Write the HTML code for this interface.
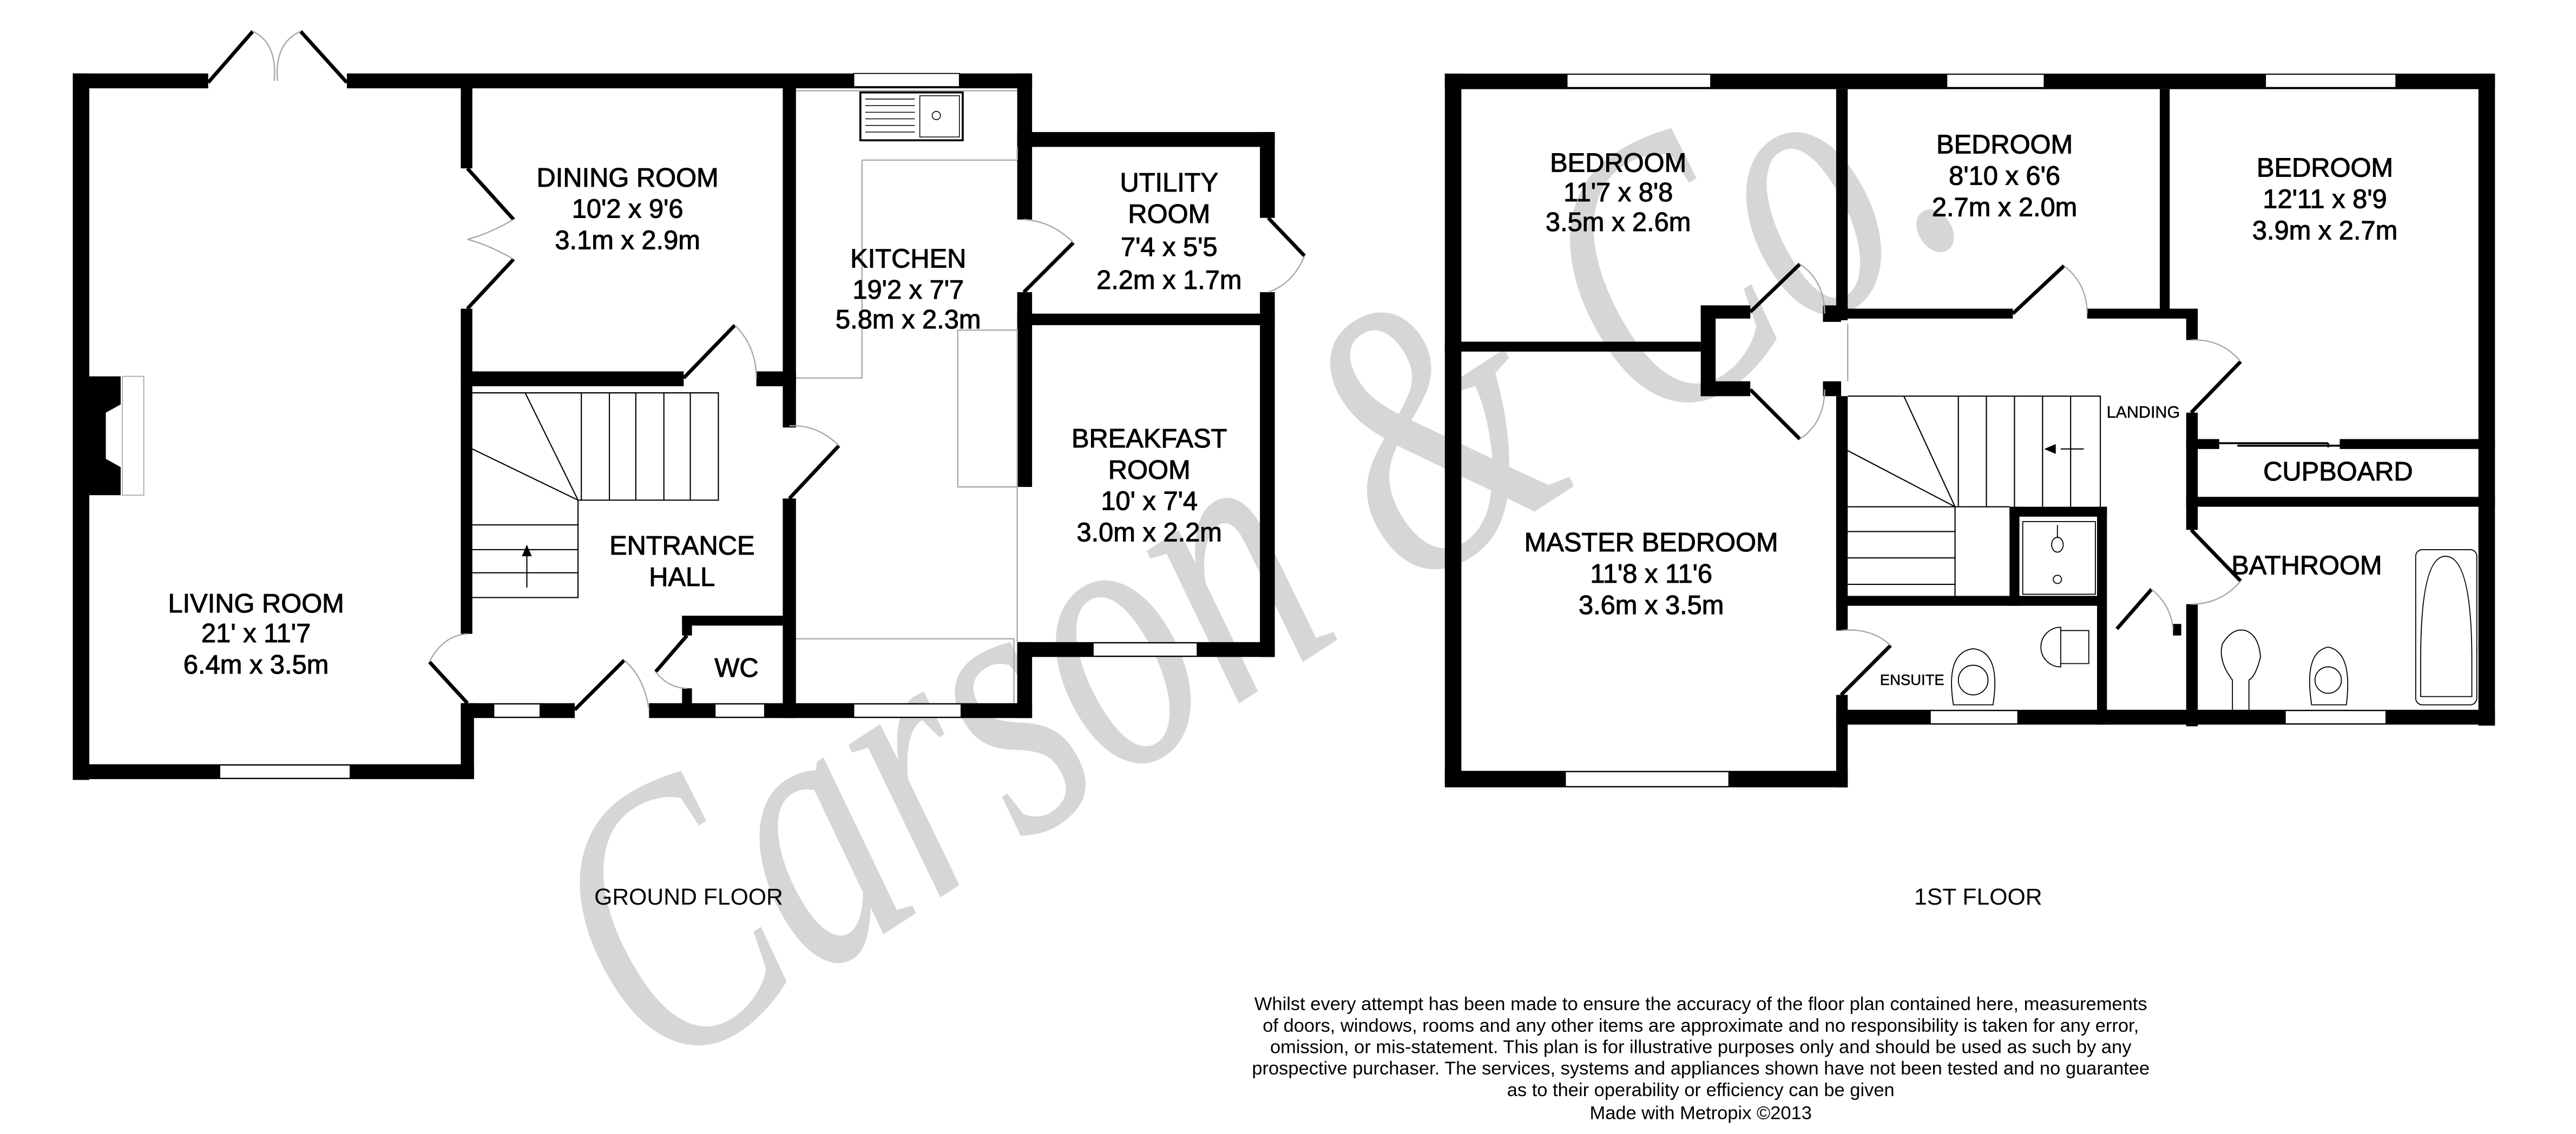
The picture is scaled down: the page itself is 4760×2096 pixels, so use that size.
<!DOCTYPE html>
<html><head><meta charset="utf-8"><style>
html,body{margin:0;padding:0;background:#fff;width:4760px;height:2096px;overflow:hidden}
svg{display:block}
.t{font-family:"Liberation Sans",sans-serif;font-size:16px;fill:#000;text-anchor:middle;stroke:#000;stroke-width:0.35}
.d{fill:none;stroke:#aaa;stroke-width:0.8}
.dl{stroke:#000;stroke-width:2.2}
.g{fill:none;stroke:#aaa;stroke-width:0.8}
.s{stroke:#000;stroke-width:0.7;fill:none}
</style></head><body>
<svg width="4760" height="2096" viewBox="0 0 1560 687" xmlns="http://www.w3.org/2000/svg">
<rect width="1560" height="687" fill="#fff"/>
<!-- watermark -->
<text x="0" y="0" transform="translate(398,655) rotate(-33)" font-family="Liberation Serif, serif" font-style="italic" font-size="235" textLength="955" lengthAdjust="spacingAndGlyphs" fill="#999" fill-opacity="0.4">Carson &amp; Co.</text>
<g fill="#000">
<!-- GROUND FLOOR -->
<rect x="44" y="44.5" width="10" height="428"/>
<rect x="44" y="44.5" width="82" height="9"/>
<rect x="210" y="44.5" width="415" height="9"/>
<rect x="616" y="44.5" width="9" height="45"/>
<rect x="616" y="80" width="156" height="9"/>
<rect x="763" y="80" width="9" height="52"/>
<rect x="763" y="177" width="9" height="221"/>
<rect x="616" y="190" width="156" height="7"/>
<rect x="616" y="89" width="9" height="44"/>
<rect x="616" y="177" width="9" height="118"/>
<rect x="616" y="389" width="156" height="9"/>
<rect x="616" y="389" width="9" height="46"/>
<rect x="393" y="426" width="232" height="9"/>
<rect x="474" y="53" width="8" height="206"/>
<rect x="474" y="302" width="8" height="133"/>
<rect x="279" y="53" width="7" height="49"/>
<rect x="279" y="187" width="7" height="197"/>
<rect x="279" y="225" width="135" height="9"/>
<rect x="458" y="225" width="24" height="9"/>
<rect x="44" y="463" width="243" height="9"/>
<rect x="279" y="426" width="8" height="46"/>
<rect x="279" y="426" width="69" height="9"/>
<rect x="413" y="373" width="61" height="6"/>
<rect x="413" y="373" width="6" height="12"/>
<rect x="413" y="417" width="6" height="10"/>
<path d="M54 228 H73 V245 L64 250 V278 L73 283 V300 H54 Z"/>
<!-- FIRST FLOOR -->
<rect x="875" y="44.6" width="10" height="432"/>
<rect x="875" y="44.6" width="636" height="9.4"/>
<rect x="1501" y="44.6" width="10" height="395"/>
<rect x="1112" y="54" width="7" height="140"/>
<rect x="1308" y="54" width="6" height="133"/>
<rect x="1112" y="187" width="107" height="6"/>
<rect x="1264" y="187" width="67" height="6"/>
<rect x="1324" y="187" width="7" height="19"/>
<rect x="1324" y="250" width="7" height="71"/>
<rect x="1324" y="366" width="7" height="74"/>
<rect x="1324" y="266" width="20" height="6"/>
<rect x="1417" y="266" width="94" height="6"/>
<rect x="1324" y="301" width="187" height="6"/>
<rect x="875" y="207" width="155" height="6"/>
<rect x="1030" y="185" width="9" height="55"/>
<rect x="1030" y="185" width="30" height="8"/>
<rect x="1030" y="231" width="30" height="9"/>
<rect x="1104" y="185" width="11" height="10"/>
<rect x="1104" y="231" width="11" height="9"/>
<rect x="1112" y="240" width="7" height="142"/>
<rect x="1112" y="421" width="7" height="56"/>
<rect x="875" y="467" width="244" height="10"/>
<rect x="1112" y="430" width="399" height="9"/>
<rect x="1112" y="361" width="162" height="6"/>
<rect x="1270" y="307" width="6" height="132"/>
<rect x="1217" y="307" width="59" height="6"/>
<rect x="1217" y="307" width="6" height="60"/>
<rect x="1316" y="378" width="5" height="7"/>
</g>
<!-- windows -->
<g fill="#fff" stroke="#000" stroke-width="0.6">
<rect x="517" y="44.5" width="64" height="8"/>
<rect x="662" y="389.5" width="63" height="8"/>
<rect x="433" y="426.5" width="30" height="8"/>
<rect x="517" y="426.5" width="65" height="8"/>
<rect x="299" y="426.5" width="28" height="8"/>
<rect x="133" y="463.5" width="79" height="8"/>
<rect x="74" y="228" width="13" height="72" stroke="#aaa"/>
<rect x="949" y="45" width="87" height="8"/>
<rect x="1179" y="45" width="59" height="8"/>
<rect x="1372" y="45" width="79" height="8"/>
<rect x="948" y="467.5" width="99" height="9"/>
<rect x="1169" y="430.5" width="53" height="8"/>
<rect x="1384" y="430.5" width="61" height="8"/>
</g>
<g class="g">
<path d="M482 55 H616 M616 89 V97 M522 97 H616 M522 97 V229 H482"/>
<path d="M580 200 H616 V295 H580 Z"/>
<path d="M616 295 V389 M482 387 H614 V426"/>
<path d="M1119 196 V231"/>
</g>
<rect x="521" y="56" width="62" height="29" fill="#fff" stroke="#000" stroke-width="1.2"/>
<path d="M524 60h30M524 64h30M524 68h30M524 72h30M524 76h30M524 80h30" stroke="#000" stroke-width="0.5"/>
<rect x="557" y="58" width="24" height="25" fill="none" stroke="#000" stroke-width="0.5"/>
<circle cx="567" cy="70" r="2.5" fill="none" stroke="#000" stroke-width="0.5"/>
<g>
<line class="dl" x1="126" y1="50" x2="153" y2="19"/><line class="dl" x1="210" y1="50" x2="182" y2="19"/>
<path class="d" d="M153 19 Q168 26 166 49 M182 19 Q166 26 168 49"/>
<line class="dl" x1="283" y1="102" x2="311" y2="133"/><line class="dl" x1="283" y1="187" x2="311" y2="157"/>
<path class="d" d="M311 133 Q295 142 283 145 M311 157 Q295 148 283 145"/>
<line class="dl" x1="414" y1="229" x2="445" y2="197"/><path class="d" d="M445 197 Q458 210 458 229"/>
<line class="dl" x1="478" y1="302" x2="508" y2="270"/><path class="d" d="M508 270 Q495 257 478 258"/>
<line class="dl" x1="620" y1="177" x2="650" y2="147"/><path class="d" d="M650 147 Q637 134 620 133"/>
<line class="dl" x1="768" y1="132" x2="790" y2="155"/><path class="d" d="M790 155 Q783 172 768 177"/>
<line class="dl" x1="283" y1="426" x2="260" y2="401"/><path class="d" d="M260 401 Q268 385 283 384"/>
<line class="dl" x1="348" y1="430" x2="378" y2="400"/><path class="d" d="M378 400 Q390 410 393 430"/>
<line class="dl" x1="416" y1="385" x2="397" y2="407"/><path class="d" d="M397 407 Q405 417 416 417"/>
</g>
<g class="s">
<path d="M286 238 H435 V303 H350 V362 H286"/>
<path d="M318 238 L350 303 M286 272 L350 303"/>
<path d="M352 238V303M369 238V303M385 238V303M402 238V303M418 238V303"/>
<path d="M286 318H350M286 333H350M286 347H350"/>
<path d="M319 356 V332"/>
</g>
<path d="M319 330 l-3 7 h6 z" fill="#000"/>
<g>
<line class="dl" x1="1060" y1="189" x2="1090" y2="160"/><path class="d" d="M1090 160 Q1105 170 1105 190"/>
<line class="dl" x1="1060" y1="236" x2="1090" y2="266"/><path class="d" d="M1090 266 Q1105 256 1105 236"/>
<line class="dl" x1="1219" y1="190" x2="1250" y2="161"/><path class="d" d="M1250 161 Q1264 172 1264 190"/>
<line class="dl" x1="1327" y1="250" x2="1357" y2="219"/><path class="d" d="M1357 219 Q1345 205 1327 206"/>
<line class="dl" x1="1327" y1="321" x2="1357" y2="352"/><path class="d" d="M1357 352 Q1345 366 1327 366"/>
<line class="dl" x1="1115" y1="421" x2="1145" y2="391"/><path class="d" d="M1145 391 Q1133 380 1115 382"/>
<line class="dl" x1="1282" y1="381" x2="1303" y2="357"/><path class="d" d="M1303 357 Q1315 367 1316 381"/>
<path d="M1344 268.5 H1410 M1410 268.5 V271" stroke="#000" stroke-width="1.2"/>
<path d="M1355 270 H1422" stroke="#000" stroke-width="1.2"/>
</g>
<g class="s">
<path d="M1119 240 H1272 V307"/>
<path d="M1153 240 L1184 307 M1119 273 L1184 307"/>
<path d="M1186 240V307M1203 240V307M1220 240V307M1237 240V307M1254 240V307"/>
<path d="M1119 307H1217M1119 322H1184M1119 338H1184M1119 354H1184M1184 307V361"/>
<path d="M1262 272 H1248"/>
</g>
<path d="M1238 272 l7 -3 v6 z" fill="#000"/>
<rect x="1225" y="316" width="44" height="44" fill="none" stroke="#000" stroke-width="0.6"/>
<ellipse cx="1246" cy="330" rx="3.5" ry="4.5" fill="none" stroke="#000" stroke-width="0.6"/>
<circle cx="1246" cy="351" r="2.5" fill="none" stroke="#000" stroke-width="0.6"/>
<line x1="1246" y1="318" x2="1246" y2="326" stroke="#000" stroke-width="0.6"/>
<g fill="none" stroke="#000" stroke-width="0.6">
<path d="M1248 380 A12 12 0 1 0 1248 404 Z"/><path d="M1248 382 H1265 V402 H1248"/>
<path d="M1183 427 Q1178 395 1195 393 Q1212 395 1207 427 Z"/><circle cx="1195" cy="412" r="9"/>
<path d="M1352 430 V412 Q1343 400 1346 390 Q1352 380 1360 382 Q1368 385 1369 398 Q1366 410 1362 412 V430"/>
<path d="M1400 427 Q1395 395 1410 392 Q1425 395 1421 427 Z"/><circle cx="1410" cy="412" r="8"/>
<rect x="1463" y="333" width="37" height="94" rx="4"/><path d="M1466 400 Q1466 337 1481 337 Q1497 337 1497 400 V422 H1466 Z"/>
</g>
<g class="t">
<text x="155" y="371">LIVING ROOM</text><text x="155" y="389">21' x 11'7</text><text x="155" y="408">6.4m x 3.5m</text>
<text x="380" y="113">DINING ROOM</text><text x="380" y="132">10'2 x 9'6</text><text x="380" y="151">3.1m x 2.9m</text>
<text x="550" y="162">KITCHEN</text><text x="550" y="181">19'2 x 7'7</text><text x="550" y="199">5.8m x 2.3m</text>
<text x="708" y="116">UTILITY</text><text x="708" y="135">ROOM</text><text x="708" y="155">7'4 x 5'5</text><text x="708" y="175">2.2m x 1.7m</text>
<text x="696" y="271">BREAKFAST</text><text x="696" y="290">ROOM</text><text x="696" y="309">10' x 7'4</text><text x="696" y="328">3.0m x 2.2m</text>
<text x="413" y="336">ENTRANCE</text><text x="413" y="355">HALL</text>
<text x="446" y="410">WC</text>
<text x="980" y="104">BEDROOM</text><text x="980" y="122">11'7 x 8'8</text><text x="980" y="140">3.5m x 2.6m</text>
<text x="1214" y="93">BEDROOM</text><text x="1214" y="112">8'10 x 6'6</text><text x="1214" y="131">2.7m x 2.0m</text>
<text x="1408" y="107">BEDROOM</text><text x="1408" y="126">12'11 x 8'9</text><text x="1408" y="145">3.9m x 2.7m</text>
<text x="1000" y="334">MASTER BEDROOM</text><text x="1000" y="353">11'8 x 11'6</text><text x="1000" y="372">3.6m x 3.5m</text>
<text x="1416" y="291">CUPBOARD</text>
<text x="1397" y="348">BATHROOM</text>
<text x="1298" y="253" style="font-size:10px;stroke-width:0.15">LANDING</text>
<text x="1158" y="415" style="font-size:9px;stroke-width:0.15">ENSUITE</text>
</g>
<g font-family="Liberation Sans, sans-serif" fill="#000" text-anchor="middle">
<text x="417" y="548" font-size="14">GROUND FLOOR</text>
<text x="1198" y="548" font-size="14">1ST FLOOR</text>
<g font-size="11.3">
<text x="1030" y="612">Whilst every attempt has been made to ensure the accuracy of the floor plan contained here, measurements</text>
<text x="1030" y="625">of doors, windows, rooms and any other items are approximate and no responsibility is taken for any error,</text>
<text x="1030" y="638">omission, or mis-statement. This plan is for illustrative purposes only and should be used as such by any</text>
<text x="1030" y="651">prospective purchaser. The services, systems and appliances shown have not been tested and no guarantee</text>
<text x="1030" y="664">as to their operability or efficiency can be given</text>
<text x="1030" y="678">Made with Metropix ©2013</text>
</g></g>
</svg>
</body></html>
